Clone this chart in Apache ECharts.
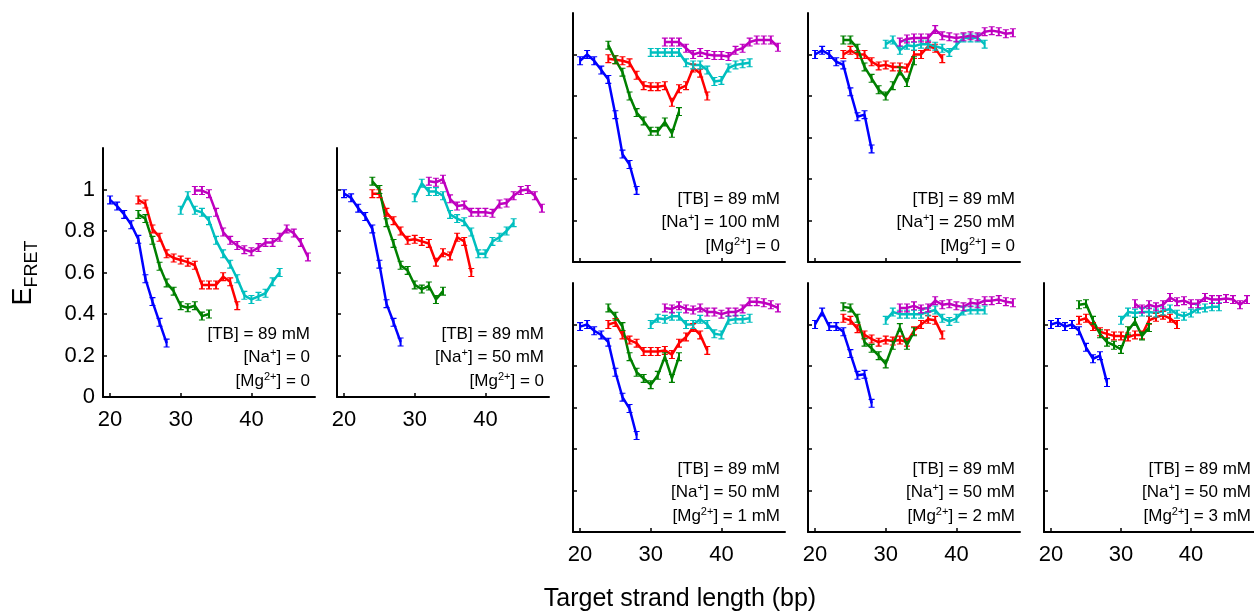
<!DOCTYPE html>
<html>
<head>
<meta charset="utf-8">
<script src="https://cdn.jsdelivr.net/npm/echarts@6/dist/echarts.min.js"></script>
<style>
    html, body {margin: 0; padding: 0; background: #fff;}
    #main {width: 1254px; height: 613px;}
</style>
</head>
<body>
<div id="main"></div>
<script>
// x positions (target strand length, bp) for each construct
var xBlue = [20, 21, 22, 23, 24, 25, 26, 27, 28];
var xRed = [24, 25, 26, 27, 28, 29, 30, 31, 32, 33, 34, 35, 36, 37, 38];
var xGreen = [24, 25, 26, 27, 28, 29, 30, 31, 32, 33, 34];
var xCyan = [30, 31, 32, 33, 34, 35, 36, 37, 38, 39, 40, 41, 42, 43, 44];
var xMagenta = [32, 33, 34, 35, 36, 37, 38, 39, 40, 41, 42, 43, 44, 45, 46, 47, 48];

// panel 1 : Na 0, Mg 0
var blue1 = [0.95, 0.92, 0.88, 0.83, 0.76, 0.57, 0.46, 0.36, 0.26];
var red1 = [0.95, 0.93, 0.81, 0.77, 0.69, 0.67, 0.66, 0.65, 0.635, 0.54, 0.54, 0.54, 0.58, 0.555, 0.44];
var green1 = [0.88, 0.86, 0.755, 0.63, 0.55, 0.51, 0.44, 0.43, 0.44, 0.39, 0.40];
var cyan1 = [0.90, 0.97, 0.90, 0.89, 0.85, 0.755, 0.69, 0.64, 0.57, 0.49, 0.47, 0.485, 0.50, 0.555, 0.60];
var magenta1 = [0.995, 0.995, 0.98, 0.89, 0.795, 0.755, 0.73, 0.71, 0.70, 0.72, 0.745, 0.745, 0.77, 0.81, 0.79, 0.745, 0.675];
// panel 2 : Na 50 mM
var blue2 = [0.98, 0.96, 0.91, 0.87, 0.81, 0.64, 0.45, 0.36, 0.265];
var red2 = [0.98, 0.98, 0.89, 0.85, 0.80, 0.755, 0.76, 0.75, 0.74, 0.65, 0.695, 0.68, 0.77, 0.75, 0.60];
var green2 = [1.04, 1.0, 0.84, 0.74, 0.635, 0.61, 0.54, 0.52, 0.535, 0.47, 0.51];
var cyan2 = [0.96, 1.03, 0.99, 0.99, 0.97, 0.88, 0.86, 0.845, 0.795, 0.69, 0.69, 0.75, 0.77, 0.80, 0.84];
var magenta2 = [1.04, 1.035, 1.05, 0.955, 0.92, 0.925, 0.89, 0.89, 0.89, 0.885, 0.93, 0.935, 0.97, 0.995, 1.0, 0.97, 0.91];
// panel 3 : Na 100 mM
var blue3 = [0.97, 1.0, 0.97, 0.925, 0.88, 0.71, 0.52, 0.47, 0.345];
var red3 = [0.98, 0.975, 0.97, 0.96, 0.90, 0.85, 0.845, 0.845, 0.85, 0.77, 0.835, 0.85, 0.935, 0.91, 0.80];
var green3 = [1.045, 0.975, 0.915, 0.80, 0.72, 0.68, 0.63, 0.63, 0.675, 0.62, 0.725];
var cyan3 = [1.01, 1.01, 1.01, 1.01, 1.01, 0.96, 0.95, 0.95, 0.925, 0.87, 0.875, 0.935, 0.95, 0.955, 0.96];
var magenta3 = [1.06, 1.06, 1.06, 1.03, 1.0, 1.01, 1.0, 0.995, 0.995, 0.99, 1.02, 1.03, 1.06, 1.07, 1.07, 1.07, 1.035];
// panel 4 : Na 250 mM
var blue4 = [1.0, 1.02, 1.0, 0.965, 0.95, 0.82, 0.70, 0.71, 0.545];
var red4 = [1.0, 1.02, 1.0, 1.0, 0.965, 0.945, 0.95, 0.94, 0.94, 0.935, 1.0, 1.0, 1.04, 1.03, 0.98];
var green4 = [1.07, 1.07, 1.03, 0.94, 0.885, 0.83, 0.80, 0.85, 0.92, 0.865, 0.97];
var cyan4 = [1.05, 1.07, 1.02, 1.045, 1.04, 1.05, 1.05, 1.04, 1.03, 1.01, 1.045, 1.08, 1.08, 1.08, 1.05];
var magenta4 = [1.06, 1.075, 1.08, 1.08, 1.08, 1.12, 1.09, 1.085, 1.08, 1.085, 1.09, 1.085, 1.11, 1.115, 1.11, 1.10, 1.105];
// panel 5 : Na 50 mM, Mg 1 mM
var blue5 = [0.99, 1.0, 0.97, 0.95, 0.915, 0.77, 0.65, 0.595, 0.465];
var red5 = [1.0, 1.01, 0.95, 0.925, 0.91, 0.87, 0.87, 0.87, 0.875, 0.855, 0.91, 0.94, 0.985, 0.95, 0.875];
var green5 = [1.08, 1.04, 0.99, 0.845, 0.77, 0.74, 0.71, 0.755, 0.845, 0.74, 0.845];
var cyan5 = [1.0, 1.03, 1.025, 1.04, 1.04, 1.0, 1.0, 1.025, 1.0, 0.955, 0.95, 1.02, 1.025, 1.025, 1.03];
var magenta5 = [1.08, 1.075, 1.09, 1.075, 1.07, 1.08, 1.06, 1.06, 1.05, 1.06, 1.06, 1.075, 1.11, 1.11, 1.105, 1.095, 1.08];
// panel 6 : Na 50 mM, Mg 2 mM
var blue6 = [1.0, 1.06, 0.99, 0.99, 0.965, 0.86, 0.755, 0.76, 0.62];
var red6 = [1.03, 1.02, 0.98, 0.95, 0.93, 0.915, 0.925, 0.92, 0.925, 0.915, 0.97, 1.0, 1.025, 1.02, 0.95];
var green6 = [1.085, 1.08, 1.03, 0.915, 0.885, 0.85, 0.81, 0.90, 0.985, 0.90, 0.965];
var cyan6 = [1.02, 1.06, 1.05, 1.05, 1.05, 1.05, 1.06, 1.07, 1.03, 1.015, 1.03, 1.065, 1.07, 1.07, 1.07];
var magenta6 = [1.08, 1.08, 1.09, 1.075, 1.08, 1.115, 1.095, 1.10, 1.09, 1.085, 1.105, 1.10, 1.115, 1.115, 1.12, 1.11, 1.105];
// panel 7 : Na 50 mM, Mg 3 mM
var blue7 = [1.0, 1.01, 0.99, 1.0, 0.97, 0.89, 0.835, 0.85, 0.72];
var red7 = [1.02, 1.03, 0.99, 0.965, 0.955, 0.945, 0.945, 0.94, 0.95, 0.95, 1.02, 1.035, 1.045, 1.03, 1.0];
var green7 = [1.095, 1.10, 1.02, 0.955, 0.915, 0.90, 0.88, 0.97, 1.015, 0.945, 0.985];
var cyan7 = [1.02, 1.06, 1.055, 1.06, 1.06, 1.055, 1.065, 1.075, 1.05, 1.04, 1.055, 1.075, 1.08, 1.085, 1.085];
var magenta7 = [1.10, 1.075, 1.095, 1.085, 1.095, 1.13, 1.11, 1.115, 1.10, 1.10, 1.13, 1.12, 1.12, 1.125, 1.12, 1.095, 1.12];

var xTicks = [20, 30, 40];
var yTicks = [0, 0.2, 0.4, 0.6, 0.8, 1];
var naLabels = ['0', '50 mM', '100 mM', '250 mM', '50 mM', '50 mM', '50 mM'];
var mgLabels = ['0', '0', '0', '0', '1 mM', '2 mM', '3 mM'];

var panels = [
    [blue1, red1, green1, cyan1, magenta1],
    [blue2, red2, green2, cyan2, magenta2],
    [blue3, red3, green3, cyan3, magenta3],
    [blue4, red4, green4, cyan4, magenta4],
    [blue5, red5, green5, cyan5, magenta5],
    [blue6, red6, green6, cyan6, magenta6],
    [blue7, red7, green7, cyan7, magenta7]
];
var xLists = [xBlue, xRed, xGreen, xCyan, xMagenta];
var colors = ['#0000ff', '#ff0000', '#008000', '#00bfbf', '#bf00bf'];

// layout of the panels
var boxes = [
    {left: 103, top: 148}, {left: 337, top: 148},
    {left: 573, top: 13}, {left: 808, top: 13},
    {left: 573, top: 283}, {left: 808, top: 283}, {left: 1044, top: 283}
];
var PW = 212, PH = 249;
var FONT = 'Liberation Sans, Arial, sans-serif';
// error bar glyph: vertical bar with small caps
var errBar = 'path://M0,0H6V1.2H4V8.8H6V10H0V8.8H2V1.2H0Z';

var grid = [], xAxis = [], yAxis = [], series = [], graphic = [];

for (var p = 0; p < boxes.length; p++) {
    var b = boxes[p];
    grid.push({left: b.left, top: b.top, width: PW, height: PH});
    xAxis.push({
        type: 'value', gridIndex: p, min: 19, max: 49,
        axisLine: {lineStyle: {color: '#000', width: 2}},
        axisTick: {inside: true, length: 4, customValues: xTicks, lineStyle: {color: '#000', width: 1.5}},
        axisLabel: {show: p != 2 && p != 3, customValues: xTicks, color: '#000', fontSize: 22, fontFamily: FONT, margin: 12},
        splitLine: {show: false}
    });
    yAxis.push({
        type: 'value', gridIndex: p, min: 0, max: 1.2, interval: 0.2,
        axisLine: {show: true, lineStyle: {color: '#000', width: 2}},
        axisTick: {inside: true, length: 4, customValues: yTicks, lineStyle: {color: '#000', width: 1.5}},
        axisLabel: {show: p == 0, customValues: yTicks, color: '#000', fontSize: 22, fontFamily: FONT, margin: 8},
        splitLine: {show: false}
    });
    for (var s = 0; s < 5; s++) {
        var ys = panels[p][s], xs = xLists[s], d = [];
        for (var i = 0; i < ys.length; i++) d.push([xs[i], ys[i]]);
        series.push({
            type: 'line', xAxisIndex: p, yAxisIndex: p, data: d,
            symbol: errBar, symbolSize: [6, 9], symbolKeepAspect: false,
            lineStyle: {color: colors[s], width: 2.5},
            itemStyle: {color: colors[s]},
            silent: true
        });
    }
    // condition labels
    var rx = b.left + 207;
    var lines = [
        '[TB] = 89 mM',
        '[Na{sup|+}] = ' + naLabels[p],
        '[Mg{sup|2+}] = ' + mgLabels[p]
    ];
    for (var k = 0; k < 3; k++) {
        graphic.push({
            type: 'text', x: rx, y: b.top + 186 + k * 23.5,
            style: {
                text: lines[k], align: 'right', verticalAlign: 'middle',
                fill: '#000', fontSize: 17, fontFamily: FONT,
                rich: {sup: {fontSize: 11, fontFamily: FONT, verticalAlign: 'top', lineHeight: 20, padding: [0, 0, 8, 0]}}
            }
        });
    }
}

// axis titles
graphic.push({
    type: 'text', x: 24, y: 273, rotation: Math.PI / 2,
    style: {
        text: 'E{sub|FRET}', align: 'center', verticalAlign: 'middle',
        fill: '#000', fontSize: 27, fontFamily: FONT,
        rich: {sub: {fontSize: 18, fontFamily: FONT, padding: [16, 0, 0, 0]}}
    }
});
graphic.push({
    type: 'text', x: 680, y: 599,
    style: {
        text: 'Target strand length (bp)', align: 'center', verticalAlign: 'middle',
        fill: '#000', fontSize: 25, fontFamily: FONT
    }
});

var chart = echarts.init(document.getElementById('main'));
chart.setOption({
    animation: false,
    backgroundColor: '#fff',
    grid: grid,
    xAxis: xAxis,
    yAxis: yAxis,
    series: series,
    graphic: graphic
});
</script>
</body>
</html>
